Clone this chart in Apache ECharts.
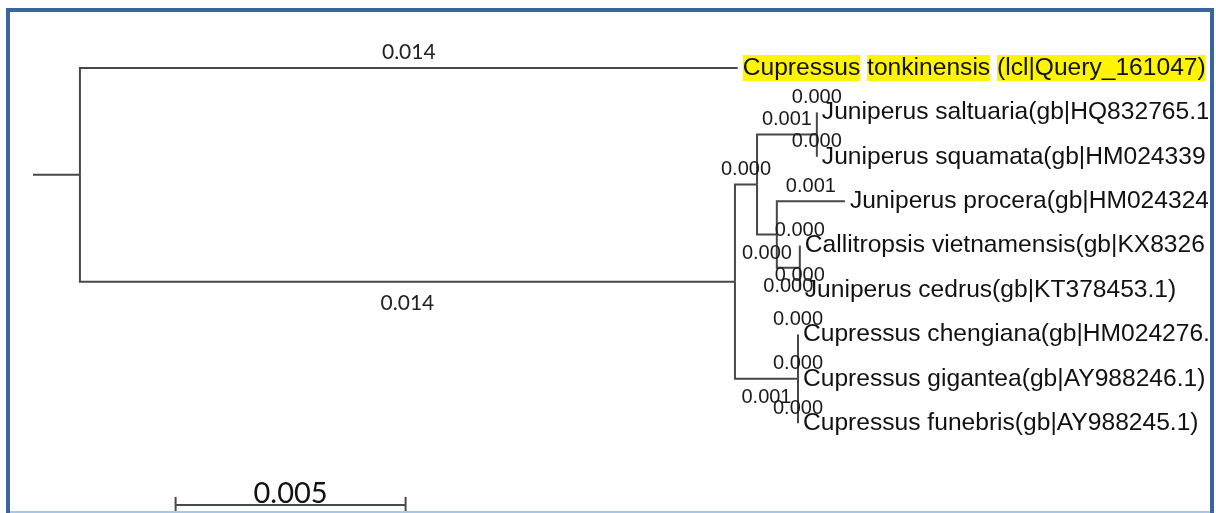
<!DOCTYPE html>
<html>
<head>
<meta charset="utf-8">
<title>Cupressus tonkinensis tree</title>
<script src="https://cdn.jsdelivr.net/npm/echarts@6/dist/echarts.min.js"></script>
<style>
  html, body { margin: 0; padding: 0; background: #fff; }
  #chart { width: 1216px; height: 513px; }
</style>
</head>
<body>
<div id="chart"></div>
<script>
// parent of every node, -1 is the root
const nodeParent = [-1, 0, 0, 2, 3, 4, 4, 3, 7, 7, 9, 9, 2, 12, 12, 12]
// branch lengths as drawn (substitutions per site)
const branchLength = [0.00102, 0.0143, 0.01424, 0.00048, 0.0013, 0, 0, 0.00043, 0.00148, 0.0005, 0, 0, 0.00137, 0, 0, 0]
// printed branch length labels
const branchLabels = ['', '0.014', '0.014', '0.000', '0.001', '0.000', '0.000', '0.000', '0.001', '0.000', '0.000', '0.000', '0.001', '0.000', '0.000', '0.000']
// leaf names, top to bottom (cut off at the frame like the original)
const taxa = [
  'Cupressus tonkinensis (lcl|Query_161047)',
  'Juniperus saltuaria(gb|HQ832765.1',
  'Juniperus squamata(gb|HM024339',
  'Juniperus procera(gb|HM024324.',
  'Callitropsis vietnamensis(gb|KX8326',
  'Juniperus cedrus(gb|KT378453.1)',
  'Cupressus chengiana(gb|HM024276.',
  'Cupressus gigantea(gb|AY988246.1)',
  'Cupressus funebris(gb|AY988245.1)'
]
const scaleBar = [0.005]
const scaleBarLabel = ['0.005']

const LINE = '#474747'
const NAME_SIZE = 24.6
const n = nodeParent.length
const children = nodeParent.map(() => [])
nodeParent.forEach((p, i) => { if (p >= 0) children[p].push(i) })

const nodeX = []
const nodeY = []
const leafIndex = []
let leafCount = 0
function layout(i, x0) {
  nodeX[i] = x0 + branchLength[i]
  if (!children[i].length) {
    leafIndex[i] = leafCount
    nodeY[i] = leafCount++
  } else {
    children[i].forEach(c => layout(c, nodeX[i]))
    nodeY[i] = children[i].reduce((s, c) => s + nodeY[c], 0) / children[i].length
  }
}
layout(0, 0)

const branchData = []
const labelData = []
for (let i = 0; i < n; i++) {
  const p = nodeParent[i]
  if (p < 0) {
    branchData.push({ coords: [[0, nodeY[i]], [nodeX[i], nodeY[i]]] })
    continue
  }
  branchData.push({ coords: [[nodeX[p], nodeY[p]], [nodeX[p], nodeY[i]], [nodeX[i], nodeY[i]]] })
  // lower child of a split gets its label under the branch, leaves always above
  const sib = children[p]
  const below = children[i].length > 0 && sib.length === 2 && sib[1] === i
  const outer = p === 0
  labelData.push({
    value: [(nodeX[p] + nodeX[i]) / 2, nodeY[i]],
    label: {
      formatter: branchLabels[i],
      position: below ? 'bottom' : 'top',
      distance: below ? (outer ? 11 : 9) : 5,
      fontFamily: outer ? 'Lato' : 'Liberation Sans',
      fontSize: outer ? 21 : 20,
      color: outer ? '#222' : '#1a1a1a'
    }
  })
}

const leafData = []
for (let i = 0; i < n; i++) {
  if (children[i].length) continue
  const name = taxa[leafIndex[i]]
  const isQuery = name.indexOf('Query') >= 0
  leafData.push({
    value: [nodeX[i], nodeY[i]],
    label: {
      formatter: isQuery ? name.split(' ').map(w => '{h|' + w + '}').join(' ') : name
    }
  })
}

// scale bar, placed under the tree
const barX = 0.0031
const barY = 9.84
const tick = 0.18
const scaleData = [
  { coords: [[barX, barY], [barX + scaleBar[0], barY]] },
  { coords: [[barX, barY - tick], [barX, barY + tick + 0.1]] },
  { coords: [[barX + scaleBar[0], barY - tick], [barX + scaleBar[0], barY + tick + 0.1]] }
]

const chart = echarts.init(document.getElementById('chart'))
chart.setOption({
  animation: false,
  backgroundColor: '#fff',
  grid: { left: 33, top: 68, width: 920, height: 444 },
  xAxis: { type: 'value', min: 0, max: 0.02, show: false },
  yAxis: { type: 'value', min: 0, max: 10, inverse: true, show: false },
  series: [
    {
      type: 'lines',
      coordinateSystem: 'cartesian2d',
      polyline: true,
      clip: false,
      silent: true,
      data: branchData,
      lineStyle: { color: LINE, width: 2, opacity: 1 }
    },
    {
      type: 'lines',
      coordinateSystem: 'cartesian2d',
      polyline: true,
      clip: false,
      silent: true,
      data: scaleData,
      lineStyle: { color: '#4a4a4a', width: 2, opacity: 1 }
    },
    {
      type: 'scatter',
      symbolSize: 0,
      clip: false,
      silent: true,
      itemStyle: { opacity: 1 },
      data: labelData,
      label: { show: true }
    },
    {
      type: 'scatter',
      symbolSize: 0,
      clip: false,
      silent: true,
      itemStyle: { opacity: 1 },
      data: leafData,
      label: {
        show: true,
        position: 'right',
        distance: 5,
        fontFamily: 'Liberation Sans',
        fontSize: NAME_SIZE,
        color: '#111',
        rich: {
          h: {
            fontFamily: 'Liberation Sans',
            fontSize: NAME_SIZE,
            color: '#111',
            backgroundColor: '#fff500',
            lineHeight: 22,
            padding: [1, 0, 0, 0]
          }
        }
      }
    },
    {
      type: 'scatter',
      symbolSize: 0,
      clip: false,
      silent: true,
      itemStyle: { opacity: 1 },
      data: [[barX + scaleBar[0] / 2, barY]],
      label: {
        show: true,
        position: 'top',
        distance: -3,
        formatter: scaleBarLabel[0],
        fontFamily: 'Lato',
        fontSize: 29,
        color: '#111'
      }
    }
  ],
  graphic: [
    { type: 'rect', z: 100, shape: { x: 1208, y: 0, width: 8, height: 513 }, style: { fill: '#fff' } },
    { type: 'rect', z: 101, shape: { x: 8, y: 10, width: 1204, height: 520 }, style: { fill: 'none', stroke: '#3b63a0', lineWidth: 4 } },
    { type: 'line', z: 101, shape: { x1: 10, y1: 512, x2: 1210, y2: 512 }, style: { stroke: '#a9c8e8', lineWidth: 2 } }
  ]
})
</script>
</body>
</html>
